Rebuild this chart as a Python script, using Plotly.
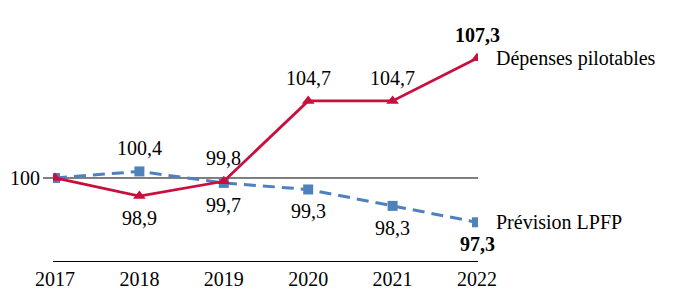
import plotly.graph_objects as go

years = [2017, 2018, 2019, 2020, 2021, 2022]
depenses = [100, 98.9, 99.8, 104.7, 104.7, 107.3]
prevision = [100, 100.4, 99.7, 99.3, 98.3, 97.3]
dep_labels = ["", "98,9", "99,8", "104,7", "104,7", "<b>107,3</b>"]
prev_labels = ["100", "100,4", "99,7", "99,3", "98,3", "<b>97,3</b>"]
dep_pos = [None, "below", "above", "above", "above", "above"]
prev_pos = ["left", "above", "below", "below", "below", "below"]

RED = "#C8103E"
BLUE = "#4F81BD"
FONT = "Liberation Serif"

fig = go.Figure()
fig.add_trace(go.Scatter(x=years, y=prevision, mode="lines+markers",
                         line=dict(color=BLUE, width=3, dash="12px,7px"),
                         marker=dict(symbol="square", size=10, color=BLUE)))
fig.add_trace(go.Scatter(x=years, y=depenses, mode="lines+markers",
                         line=dict(color=RED, width=2.8),
                         marker=dict(symbol="triangle-up", size=11, color=RED)))

ann = []
def add_labels(vals, labels, pos):
    for x, y, t, p in zip(years, vals, labels, pos):
        if not t or p is None:
            continue
        if p == "left":
            ann.append(dict(x=x, y=y, text=t, showarrow=False, xanchor="right",
                            yanchor="middle", xshift=-13))
        else:
            ann.append(dict(x=x, y=y, text=t, showarrow=False, xanchor="center",
                            yanchor="middle", yshift=(23 if p == "above" else -22)))

add_labels(prevision, prev_labels, prev_pos)
add_labels(depenses, dep_labels, dep_pos)
ann.append(dict(x=years[-1], y=depenses[-1], text="Dépenses pilotables", showarrow=False,
                xanchor="left", yanchor="middle", xshift=17))
ann.append(dict(x=years[-1], y=prevision[-1], text="Prévision LPFP", showarrow=False,
                xanchor="left", yanchor="middle", xshift=17))

fig.update_layout(
    width=677, height=301,
    margin=dict(l=53, r=199, t=20, b=40),
    paper_bgcolor="white", plot_bgcolor="white",
    showlegend=False,
    font=dict(family=FONT, size=20, color="black"),
    annotations=ann,
    xaxis=dict(range=[2017 - 2/84.4, 2022 + 1/84.4], tickvals=years,
               ticktext=[str(y) for y in years], showgrid=False, zeroline=False,
               showline=True, linecolor="black", linewidth=1, ticks="",
               tickfont=dict(family=FONT, size=20)),
    yaxis=dict(range=[94.94, 109.63], visible=False, showgrid=False),
    shapes=[dict(type="line", xref="paper", yref="y", x0=-10/425, x1=1, y0=100, y1=100,
                 line=dict(color="black", width=1), layer="below")],
)
fig.write_html("out.html")
